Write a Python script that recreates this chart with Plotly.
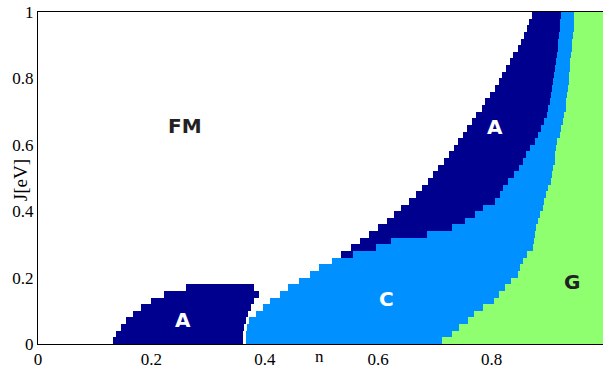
import plotly.graph_objects as go
import numpy as np

# Row edges in J (eV)
J_EDGES = [0.00, 0.02, 0.04, 0.06, 0.08, 0.10, 0.12, 0.14, 0.16, 0.18,
           0.20, 0.22, 0.24, 0.26, 0.28, 0.30, 0.32, 0.34, 0.36, 0.38,
           0.40, 0.42, 0.44, 0.46, 0.48, 0.50, 0.52, 0.54, 0.56, 0.58,
           0.60, 0.62, 0.64, 0.66, 0.68, 0.70, 0.72, 0.74, 0.76, 0.78,
           0.80, 0.82, 0.84, 0.86, 0.88, 0.90, 0.92, 0.94, 0.96, 0.98, 1.00]

# Low-n A pocket (rows 0..8)
POCKET_LO = [0.132, 0.137, 0.146, 0.156, 0.168, 0.182, 0.200, 0.223, 0.261]
POCKET_HI = [0.362, 0.362, 0.363, 0.366, 0.370, 0.375, 0.381, 0.389, 0.381]

# Left edge of the main (A or C) region per row
FM_EDGE = [0.366, 0.367, 0.369, 0.373, 0.385, 0.396, 0.410, 0.426, 0.4415, 0.460,
           0.480, 0.4956, 0.519, 0.534, 0.5515, 0.568, 0.584, 0.600, 0.615, 0.628,
           0.641, 0.655, 0.667, 0.677, 0.687, 0.697, 0.706, 0.716, 0.7255, 0.734,
           0.741, 0.750, 0.756, 0.765, 0.7725, 0.7825, 0.788, 0.797, 0.806, 0.8136,
           0.819, 0.826, 0.833, 0.838, 0.847, 0.852, 0.857, 0.862, 0.8665, 0.8707]

# Start of C phase per row
C_EDGE = [0.366, 0.367, 0.369, 0.373, 0.385, 0.396, 0.410, 0.426, 0.4415, 0.460,
          0.480, 0.4956, 0.519, 0.555, 0.597, 0.6226, 0.6855, 0.7296, 0.753, 0.7707,
          0.7854, 0.806, 0.8148, 0.8207, 0.8295, 0.8395, 0.8483, 0.8548, 0.8607, 0.8677,
          0.876, 0.882, 0.888, 0.893, 0.897, 0.900, 0.903, 0.904, 0.906, 0.908,
          0.910, 0.912, 0.9136, 0.9148, 0.9165, 0.9177, 0.919, 0.9206, 0.9206, 0.9224]

# Start of G phase per row
G_EDGE = [0.712, 0.7296, 0.743, 0.759, 0.7695, 0.7854, 0.804, 0.8136, 0.8236, 0.8336,
          0.846, 0.850, 0.856, 0.862, 0.8724, 0.8753, 0.8765, 0.879, 0.882, 0.885,
          0.890, 0.893, 0.896, 0.899, 0.904, 0.907, 0.909, 0.911, 0.912, 0.914,
          0.916, 0.920, 0.922, 0.926, 0.928, 0.931, 0.932, 0.933, 0.935, 0.936,
          0.937, 0.938, 0.939, 0.940, 0.941, 0.942, 0.944, 0.945, 0.945, 0.946]

PHASES = ["FM", "A", "C", "G"]
COLORS = ["#ffffff", "#00008f", "#0090ff", "#8fff6f"]

# Build brick edges in n and the phase matrix
x_edges = sorted(set([0.0, 1.0] + POCKET_LO + POCKET_HI + FM_EDGE + C_EDGE + G_EDGE))
x_edges = np.array(x_edges)
centers = 0.5 * (x_edges[:-1] + x_edges[1:])
nrows = len(J_EDGES) - 1
z = np.zeros((nrows, len(centers)), dtype=int)
for r in range(nrows):
    row = np.zeros(len(centers), dtype=int)
    if r < len(POCKET_LO):
        row[(centers >= POCKET_LO[r]) & (centers < POCKET_HI[r])] = 1
    row[(centers >= FM_EDGE[r]) & (centers < C_EDGE[r])] = 1
    row[(centers >= C_EDGE[r]) & (centers < G_EDGE[r])] = 2
    row[centers >= G_EDGE[r]] = 3
    z[r] = row

cs = [[0, COLORS[0]], [1/6, COLORS[0]], [1/6, COLORS[1]], [0.5, COLORS[1]],
      [0.5, COLORS[2]], [5/6, COLORS[2]], [5/6, COLORS[3]], [1, COLORS[3]]]

fig = go.Figure(go.Heatmap(x=x_edges, y=J_EDGES, z=z, colorscale=cs, zmin=0, zmax=3,
                           showscale=False, hoverinfo="skip"))

serif = dict(family="Liberation Serif", size=17, color="black")

labels = [("FM", 0.259, 0.657, "#222222"), ("A", 0.256, 0.072, "white"),
          ("A", 0.806, 0.654, "white"), ("C", 0.6155, 0.135, "white"),
          ("G", 0.942, 0.186, "#222222")]
for t, x, y, c in labels:
    fig.add_annotation(x=x, y=y, text=t, showarrow=False,
                       font=dict(family="DejaVu Sans", size=20, color=c, weight="bold"))

fig.add_annotation(x=0.497, y=0, yref="y", text="n", showarrow=False, yanchor="top",
                   yshift=-1, font=serif)
fig.add_annotation(x=1.0, y=0, yref="y", text="1", showarrow=False, yanchor="top",
                   yshift=-1, font=serif)
fig.add_annotation(x=-0.031, xref="paper", y=0.495, yref="paper", text="J[eV]",
                   textangle=-90, showarrow=False, xanchor="center", yanchor="middle",
                   font=dict(family="Liberation Serif", size=19, color="black"))

fig.update_layout(
    width=603, height=369,
    margin=dict(l=38, r=0, t=12, b=23),
    paper_bgcolor="white", plot_bgcolor="white",
    showlegend=False,
    xaxis=dict(range=[0, 0.9965], tickvals=[0, 0.2, 0.4, 0.6, 0.8],
               ticktext=["0", "0.2", "0.4", "0.6", "0.8"], ticks="",
               showgrid=False, zeroline=False, showline=True, mirror=True,
               linecolor="black", linewidth=1, tickfont=serif),
    yaxis=dict(range=[0, 1], tickvals=[0, 0.2, 0.4, 0.6, 0.8, 1.0],
               ticktext=["0", "0.2", "0.4", "0.6", "0.8", "1"], ticks="",
               showgrid=False, zeroline=False, showline=True, mirror=False,
               linecolor="black", linewidth=1, tickfont=serif),
)

fig.write_html("out.html")
